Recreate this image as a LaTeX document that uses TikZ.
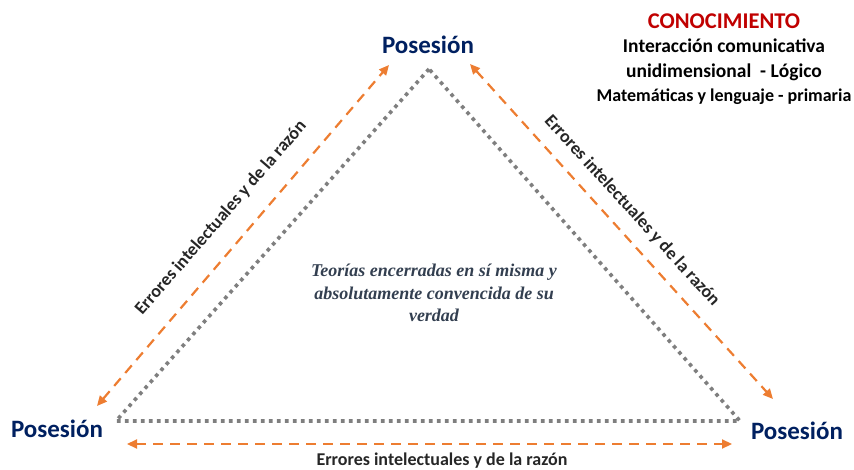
\documentclass[tikz,border=0pt]{standalone}
\usepackage{fontspec}
\setmainfont{Carlito}
\newfontfamily\serifit{Liberation Serif}
\usetikzlibrary{arrows.meta}

\definecolor{posnavy}{HTML}{002060}
\definecolor{knowred}{HTML}{C00000}
\definecolor{errorange}{HTML}{ED7D31}
\definecolor{sidegray}{HTML}{7F7F7F}
\definecolor{labelgray}{HTML}{262626}
\definecolor{theorygray}{HTML}{333F50}

\tikzset{
    posnode/.style={font=\fontsize{25}{30}\selectfont\bfseries, text=posnavy, inner sep=0pt},
    errlabel/.style={font=\fontsize{18}{22}\selectfont\bfseries, text=labelgray, inner sep=0pt},
    errarrow/.style={{Triangle[length=10pt,width=9pt]}-{Triangle[length=10pt,width=9pt]}, errorange,
        line width=2.2pt, dash pattern=on 10pt off 7pt},
    sideline/.style={sidegray, line width=3.6pt, dash pattern=on 3.6pt off 4.4pt}
}

\begin{document}
\begin{tikzpicture}[x=1pt, y=-1pt]
            \path[use as bounding box] (0,0) rectangle (854,470);

            % corners of the dotted triangle
            \coordinate (apex) at (429, 69);
            \coordinate (baseL) at (116, 421);
            \coordinate (baseR) at (740, 421);
            \draw[sideline] (apex) -- (baseL) -- (baseR) -- cycle;

            \node[posnode] (posTop) at (428, 45) {Posesión};
            \node[posnode] (posLeft) at (57, 429) {Posesión};
            \node[posnode] (posRight) at (797, 431) {Posesión};

            % arrow ends
            \coordinate (leftLow) at (97, 406);
            \coordinate (leftHigh) at (389, 65);
            \coordinate (rightHigh) at (470, 64);
            \coordinate (rightLow) at (773, 399);
            \coordinate (baseLow) at (127, 444);
            \coordinate (baseHigh) at (732, 444);
            \draw[errarrow] (leftLow) -- (leftHigh);
            \draw[errarrow] (rightHigh) -- (rightLow);
            \draw[errarrow] (baseLow) -- (baseHigh);

            \node[errlabel, rotate=49] (errLeft) at (221, 218) {Errores intelectuales y de la razón};
            \node[errlabel, rotate=-47.7] (errRight) at (632, 211) {Errores intelectuales y de la razón};
            \node[errlabel] (errBase) at (442, 461) {Errores intelectuales y de la razón};

            \node[align=center, text=theorygray, font=\serifit\fontsize{18}{22.8}\selectfont\bfseries\itshape]
                (theory) at (434, 293) {Teorías encerradas en sí misma y\\absolutamente convencida de su\\verdad};

            \node[align=center, font=\fontsize{19.5}{24.5}\selectfont\bfseries] (know) at (724, 59)
                {{\color{knowred}\fontsize{22.5}{24.5}\selectfont CONOCIMIENTO}\\
                 Interacción comunicativa\\
                 unidimensional~~- Lógico\\
                 {\fontsize{18}{24.5}\selectfont Matemáticas y lenguaje - primaria}};
\end{tikzpicture}
\end{document}
